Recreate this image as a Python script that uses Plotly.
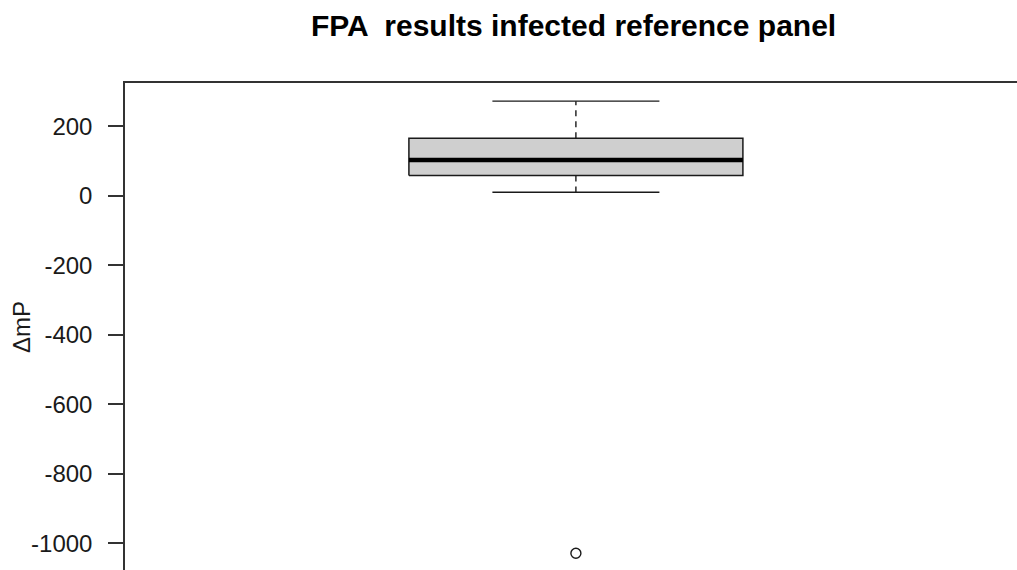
import plotly.graph_objects as go

# ---- data ----
group_pos = [1]
q1_vals = [58]
median_vals = [103]
q3_vals = [165]
lower_whisker = [10]
upper_whisker = [272]
outlier_vals = [-1029]
y_ticks = [200, 0, -200, -400, -600, -800, -1000]

BOX_HALF = 0.2
CAP_HALF = 0.1
LINE = "#1a1a1a"
FONT = "Liberation Sans, Arial, sans-serif"

fig = go.Figure()

for x, q1, med, q3, lo, hi in zip(group_pos, q1_vals, median_vals, q3_vals,
                                  lower_whisker, upper_whisker):
    # box body
    fig.add_trace(go.Scatter(
        x=[x - BOX_HALF, x + BOX_HALF, x + BOX_HALF, x - BOX_HALF, x - BOX_HALF],
        y=[q1, q1, q3, q3, q1], mode="lines", fill="toself",
        fillcolor="#cfcfcf", line=dict(color=LINE, width=1.5),
        hoverinfo="skip", showlegend=False))
    # median
    fig.add_trace(go.Scatter(
        x=[x - BOX_HALF, x + BOX_HALF], y=[med, med], mode="lines",
        line=dict(color="#000000", width=4.5), showlegend=False))
    # whiskers (dashed)
    fig.add_trace(go.Scatter(
        x=[x, x, None, x, x], y=[q3, hi, None, q1, lo], mode="lines",
        line=dict(color=LINE, width=1.4, dash="6px,5px"), showlegend=False))
    # caps
    fig.add_trace(go.Scatter(
        x=[x - CAP_HALF, x + CAP_HALF, None, x - CAP_HALF, x + CAP_HALF],
        y=[hi, hi, None, lo, lo], mode="lines",
        line=dict(color=LINE, width=1.4), showlegend=False))

# outliers
fig.add_trace(go.Scatter(
    x=[group_pos[0]] * len(outlier_vals), y=outlier_vals, mode="markers",
    marker=dict(symbol="circle-open", size=10, color=LINE, line=dict(width=1.4)),
    showlegend=False))

fig.update_layout(
    width=1017, height=570,
    margin=dict(l=125, r=0, t=83, b=0, pad=0),
    paper_bgcolor="white", plot_bgcolor="white",
    font=dict(family=FONT, color="#1a1a1a"),
    title=dict(text="<b>FPA  results infected reference panel</b>",
               x=0.564, xanchor="center", y=1 - 25.5 / 570, yanchor="middle",
               xref="container", yref="container",
               font=dict(size=30, family=FONT, color="#000000")),
    xaxis=dict(range=[0.46, 0.46 + 892 / 835], side="top", showline=True,
               linecolor="#333333", linewidth=1.8, mirror=False,
               showticklabels=False, ticks="", showgrid=False, zeroline=False),
    yaxis=dict(range=[-1077.1, 324.3], tickvals=y_ticks,
               ticktext=[str(v) for v in y_ticks],
               ticks="outside", ticklen=15, tickwidth=1.5, tickcolor="#333333",
               ticklabelstandoff=11,
               showline=True, linecolor="#333333", linewidth=1.5,
               showgrid=False, zeroline=False,
               tickfont=dict(size=24, family=FONT, color="#1a1a1a")),
    annotations=[dict(text="ΔmP", xref="paper", yref="paper",
                      x=(22 - 125) / 892, y=0.499, xanchor="center",
                      yanchor="middle", textangle=-90, showarrow=False,
                      font=dict(size=24, family=FONT, color="#1a1a1a"))],
)

fig.write_html("out.html")
